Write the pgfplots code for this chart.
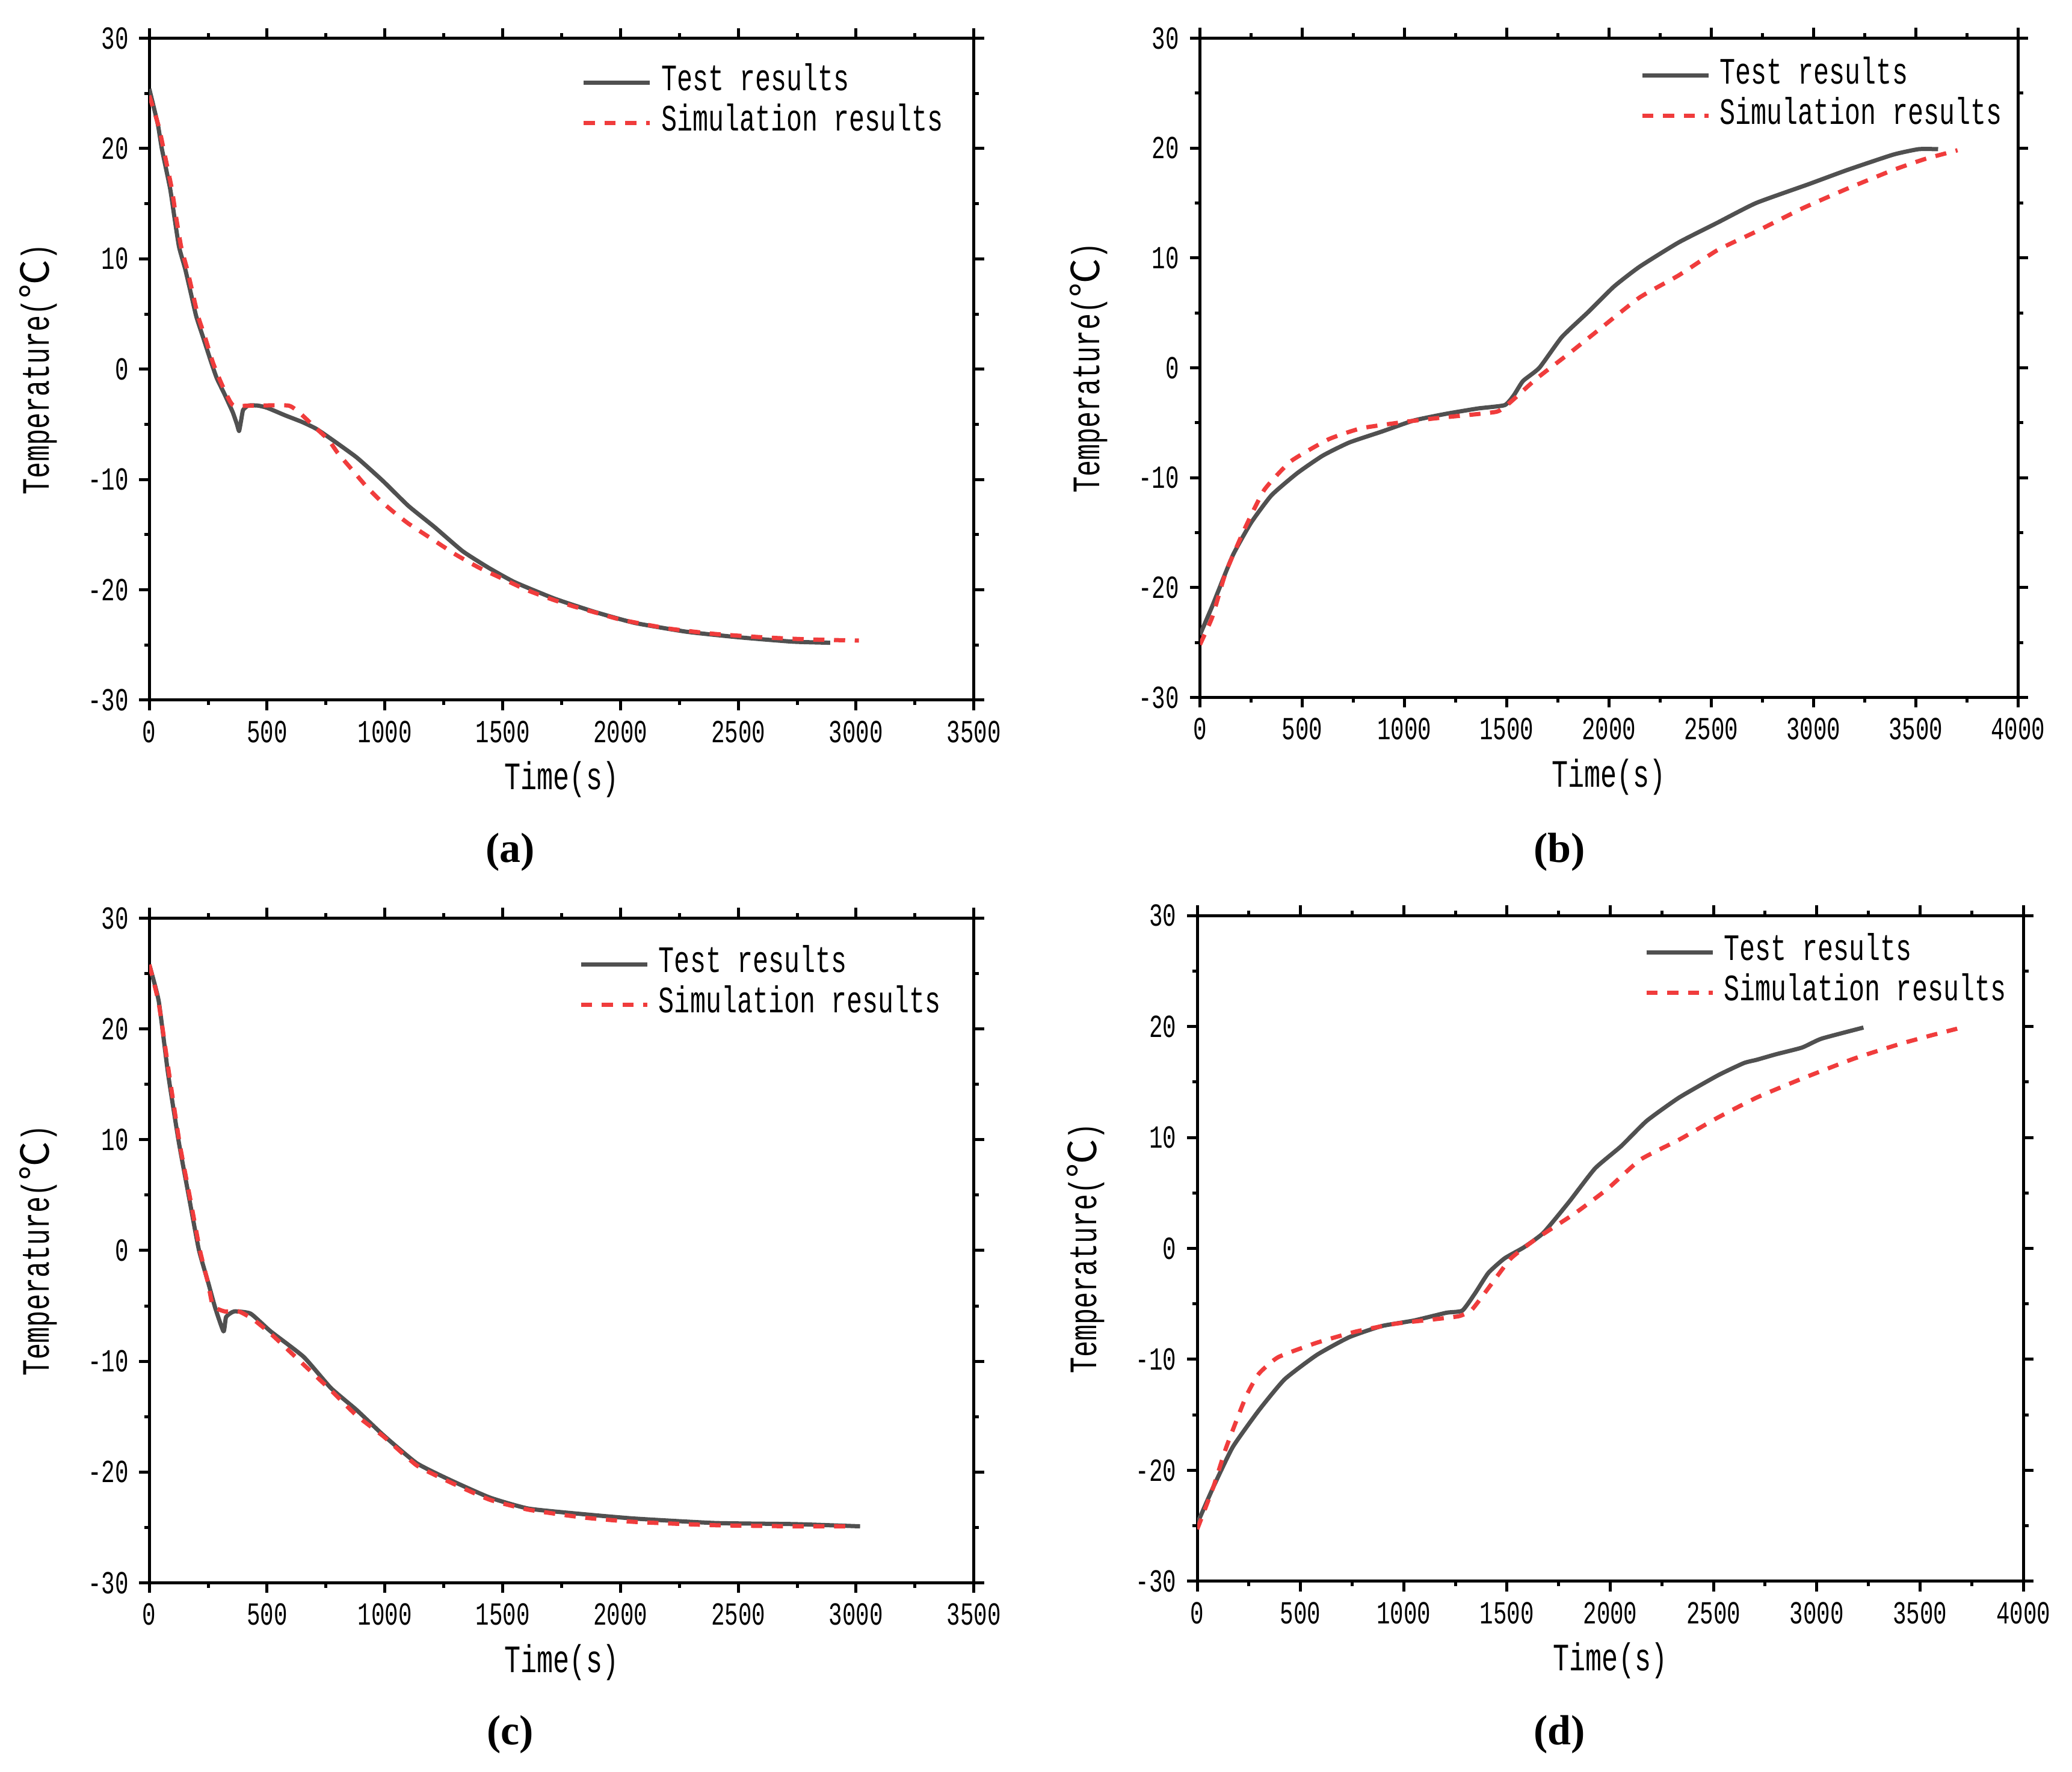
\documentclass[border=0pt]{standalone}
\usepackage{fontspec}
\setmainfont{Liberation Mono}[FakeStretch=0.7]
\newfontfamily\cjk{Noto Sans CJK SC}
\newfontfamily\serifb{Liberation Serif}
\usepackage{pgfplots}
\pgfplotsset{compat=1.18}
\definecolor{tgray}{RGB}{80,80,80}
\definecolor{sred}{RGB}{240,60,60}
\pgfplotsset{
 panel/.style={
  scale only axis, axis line style={line width=1pt},
  tick align=outside, major tick length=3.4pt, minor tick length=1.7pt,
  tick style={black, line width=1pt},
  ymin=-30, ymax=30, ytick={-30,-20,...,30}, minor y tick num=1,
  xmin=0, xtick distance=500, minor x tick num=1,
  ticklabel style={font=\fontsize{10.7}{11}\selectfont},
  /pgf/number format/assume math mode=true, /pgf/number format/1000 sep={},
  xlabel={Time(s)}, ylabel={Temperature({\cjk ℃})},
  every axis x label/.style={at={(axis description cs:0.5,0)},anchor=center,yshift=-26.4pt,font=\fontsize{12.9}{14}\selectfont},
  every axis y label/.style={at={(axis description cs:0,0.5)},anchor=center,rotate=90,yshift=37pt,font=\fontsize{12.9}{14}\selectfont},
  legend style={draw=none, fill=none, font=\fontsize{12.4}{13}\selectfont,
    nodes={inner sep=0pt, text height=7pt, text depth=1.5pt},
    row sep=4.9pt, column sep=3.1pt, anchor=north west, xshift=-4.8pt},
  legend image code/.code={\draw[##1] (0pt,0pt) -- (22pt,0pt);},
  legend cell align=left,
 },
 test/.style={color=tgray, line width=1.4pt, no markers, smooth, tension=0.3, line join=round},
 sim/.style={color=sred, line width=1.4pt, dash pattern=on 3.7pt off 3.2pt, no markers, smooth, tension=0.3},
}
\begin{document}
\begin{tikzpicture}
\useasboundingbox (0,0) rectangle (688.8pt,589.2pt);
% (a)
\begin{axis}[panel, at={(49.64pt,356.4pt)}, anchor=south west, width=274.1pt, height=220.1pt, xmax=3500,
  legend style={at={(0.53,1)}, yshift=-8.25pt}]
\addplot[test] coordinates {(0,25.4) (36,22.2) (53,20.0) (88,16.4) (105,14.0) (126,11.1) (152,9.1) (174,7.1) (199,4.8) (225,3.1) (260,0.8) (286,-0.8) (320,-2.3) (354,-3.9) (372,-5.0) (381,-5.6) (390,-4.6) (398,-3.7) (420,-3.3) (460,-3.3) (500,-3.5) (578,-4.2) (650,-4.8) (708,-5.4) (770,-6.3) (880,-8.0) (990,-10.1) (1100,-12.4) (1210,-14.3) (1330,-16.5) (1440,-18.0) (1550,-19.3) (1720,-20.8) (1890,-22.0) (2060,-23.0) (2280,-23.8) (2500,-24.3) (2730,-24.7) (2890,-24.8)};
\addlegendentry{Test results}
\addplot[sim] coordinates {(0,24.8) (40,22.0) (60,20.0) (95,16.4) (112,14.0) (135,11.1) (160,9.1) (182,7.1) (207,4.8) (235,3.0) (270,0.6) (300,-1.0) (330,-2.4) (358,-3.3) (450,-3.3) (590,-3.3) (635,-3.9) (700,-5.2) (760,-6.4) (800,-7.6) (860,-9.1) (920,-10.6) (980,-11.9) (1040,-13.0) (1100,-14.0) (1200,-15.4) (1300,-16.8) (1400,-18.0) (1500,-19.0) (1600,-20.0) (1700,-20.8) (1800,-21.5) (1900,-22.1) (2000,-22.7) (2200,-23.5) (2400,-24.0) (2600,-24.3) (2800,-24.5) (3012,-24.6)};
\addlegendentry{Simulation results}
\end{axis}
% (b)
\begin{axis}[panel, at={(398.9pt,357.3pt)}, anchor=south west, width=271.9pt, height=219.2pt, xmax=4000,
  legend style={at={(0.544,1)}, yshift=-6.05pt}]
\addplot[test] coordinates {(0,-24.3) (60,-21.7) (160,-17.1) (250,-14.1) (350,-11.6) (475,-9.6) (600,-8.0) (730,-6.8) (890,-5.8) (1045,-4.8) (1200,-4.2) (1360,-3.7) (1490,-3.4) (1535,-2.5) (1580,-1.2) (1660,0.0) (1770,2.8) (1900,5.1) (2025,7.4) (2150,9.2) (2340,11.4) (2530,13.2) (2720,15.0) (2975,16.7) (3165,18.0) (3390,19.4) (3515,19.9) (3610,19.9)};
\addlegendentry{Test results}
\addplot[sim] coordinates {(0,-25.2) (60,-22.7) (125,-18.7) (220,-14.6) (315,-11.1) (445,-8.5) (630,-6.5) (790,-5.5) (1010,-4.9) (1200,-4.5) (1450,-4.0) (1520,-3.1) (1645,-1.0) (1805,1.3) (1960,3.6) (2150,6.4) (2340,8.4) (2530,10.7) (2720,12.4) (2945,14.5) (3165,16.3) (3390,18.0) (3545,19.0) (3705,19.8)};
\addlegendentry{Simulation results}
\end{axis}
% (c)
\begin{axis}[panel, at={(49.64pt,62.9pt)}, anchor=south west, width=274.1pt, height=221pt, xmax=3500,
  legend style={at={(0.527,1)}, yshift=-8.9pt}]
\addplot[test] coordinates {(0,25.8) (40,22.5) (80,15.9) (125,9.8) (165,5.2) (210,0.1) (250,-2.9) (280,-5.2) (315,-7.3) (326,-6.0) (360,-5.5) (430,-5.7) (515,-7.3) (655,-9.6) (770,-12.4) (880,-14.4) (995,-16.7) (1135,-19.2) (1275,-20.7) (1445,-22.3) (1610,-23.3) (1840,-23.8) (2060,-24.2) (2400,-24.6) (2740,-24.7) (3017,-24.9)};
\addlegendentry{Test results}
\addplot[sim] coordinates {(0,25.8) (40,22.3) (85,15.8) (130,9.5) (175,4.5) (215,0.0) (250,-3.0) (270,-5.0) (320,-5.5) (380,-5.5) (440,-6.2) (520,-7.6) (655,-10.3) (770,-12.6) (880,-14.9) (995,-16.8) (1135,-19.4) (1275,-20.9) (1445,-22.5) (1610,-23.4) (1840,-24.1) (2060,-24.5) (2400,-24.8) (2740,-24.9) (2990,-24.9)};
\addlegendentry{Simulation results}
\end{axis}
% (d)
\begin{axis}[panel, at={(398.0pt,63.4pt)}, anchor=south west, width=274.6pt, height=221.4pt, xmax=4000,
  legend style={at={(0.547,1)}, yshift=-5.75pt}]
\addplot[test] coordinates {(0,-24.8) (78,-21.5) (172,-17.9) (298,-14.6) (423,-11.8) (579,-9.6) (736,-8.0) (893,-7.0) (1049,-6.5) (1206,-5.8) (1284,-5.6) (1347,-4.0) (1410,-2.2) (1488,-0.9) (1582,0.1) (1676,1.4) (1801,4.2) (1926,7.2) (2052,9.2) (2177,11.5) (2334,13.6) (2522,15.6) (2647,16.7) (2710,17.0) (2804,17.5) (2929,18.1) (3023,18.9) (3226,19.9)};
\addlegendentry{Test results}
\addplot[sim] coordinates {(0,-25.3) (78,-21.5) (141,-17.9) (235,-13.4) (298,-11.3) (392,-9.8) (579,-8.5) (767,-7.5) (955,-6.8) (1143,-6.4) (1269,-6.1) (1331,-5.5) (1425,-3.2) (1519,-0.9) (1644,0.9) (1832,3.2) (1989,5.4) (2146,8.0) (2334,9.8) (2522,11.8) (2710,13.6) (2929,15.3) (3180,17.1) (3399,18.4) (3555,19.2) (3680,19.8)};
\addlegendentry{Simulation results}
\end{axis}
\node[font=\serifb\bfseries\fontsize{14}{16}\selectfont] at (169.6pt,305.9pt) {(a)};
\node[font=\serifb\bfseries\fontsize{14}{16}\selectfont] at (518.4pt,305.9pt) {(b)};
\node[font=\serifb\bfseries\fontsize{14}{16}\selectfont] at (169.6pt,12.4pt) {(c)};
\node[font=\serifb\bfseries\fontsize{14}{16}\selectfont] at (518.4pt,12.4pt) {(d)};
\end{tikzpicture}
\end{document}
